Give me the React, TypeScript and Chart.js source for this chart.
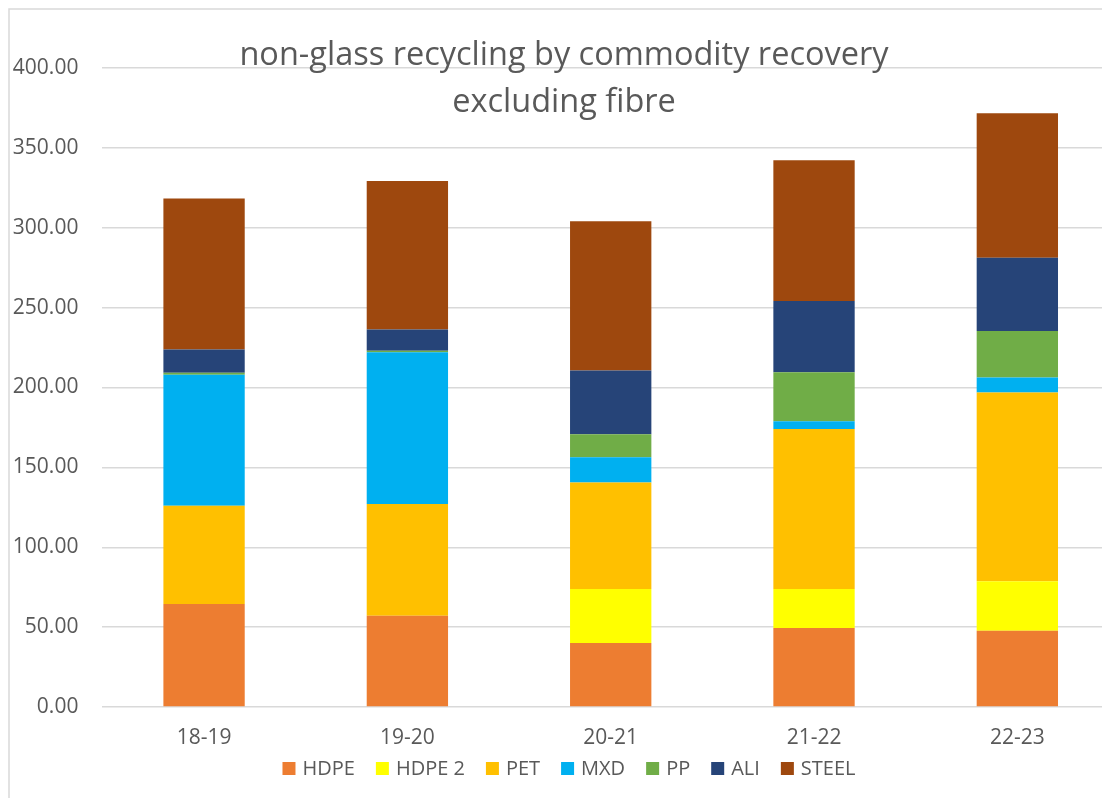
import { useEffect, useRef } from "react";
import { Chart, registerables } from "chart.js";

Chart.register(...registerables);

// Financial years along the category axis
const years = ["18-19", "19-20", "20-21", "21-22", "22-23"];

// Recovered tonnage per commodity, stacked from the bottom up
const hdpe = [64.5, 57.1, 40.0, 49.4, 47.7];
const hdpe2 = [0, 0, 33.8, 24.4, 31.0];
const pet = [61.5, 69.9, 66.8, 100.2, 118.2];
const mxd = [82.0, 95.0, 15.7, 4.8, 9.4];
const pp = [1.2, 1.0, 14.5, 30.7, 29.0];
const ali = [14.6, 13.3, 39.9, 44.6, 45.9];
const steel = [94.5, 92.9, 93.4, 88.2, 90.5];

const seriesNames = ["HDPE", "HDPE 2", "PET", "MXD", "PP", "ALI", "STEEL"];
const seriesValues = [hdpe, hdpe2, pet, mxd, pp, ali, steel];
const seriesColors = ["#ED7D31", "#FFFF00", "#FFC000", "#00B0F0", "#70AD47", "#264478", "#9E480E"];

const titleLines = ["non-glass recycling by commodity recovery", "excluding fibre"];

const yMin = 0;
const yMax = 400;
const yStep = 50;

const FONT = "'Open Sans', sans-serif";
const TEXT = "#595959";
const GRID = "#d9d9d9";

const W = 1120;
const H = 790;

// Frame, two-line title and a legend row drawn straight on the canvas
const decorations = {
  id: "decorations",
  afterDraw(chart: any) {
    const { ctx } = chart;
    ctx.save();

    ctx.strokeStyle = GRID;
    ctx.lineWidth = 1.5;
    ctx.strokeRect(1, 1, chart.width + 20, chart.height + 20);

    ctx.fillStyle = TEXT;
    ctx.textAlign = "center";
    ctx.textBaseline = "alphabetic";
    ctx.font = `32.5px ${FONT}`;
    titleLines.forEach((line, i) => ctx.fillText(line, 556, 57 + i * 47));

    ctx.font = `20px ${FONT}`;
    ctx.textAlign = "left";
    ctx.textBaseline = "middle";
    const box = 13;
    const gap = 7;
    const spacing = 21;
    const widths = seriesNames.map((n) => ctx.measureText(n).width);
    const total =
      widths.reduce((a: number, w: number) => a + box + gap + w, 0) + spacing * (seriesNames.length - 1);
    let x = 561 - total / 2;
    const cy = 760.5;
    seriesNames.forEach((name, i) => {
      ctx.fillStyle = seriesColors[i];
      ctx.fillRect(x, cy - box / 2, box, box);
      ctx.fillStyle = TEXT;
      ctx.fillText(name, x + box + gap, cy + 1);
      x += box + gap + widths[i] + spacing;
    });

    ctx.restore();
  },
};

export default function App() {
  const canvasRef = useRef<HTMLCanvasElement>(null);

  useEffect(() => {
    const canvas = canvasRef.current;
    if (!canvas) return;

    const chart = new Chart(canvas, {
      type: "bar",
      data: {
        labels: years,
        datasets: seriesNames.map((name, i) => ({
          label: name,
          data: seriesValues[i],
          backgroundColor: seriesColors[i],
          borderWidth: 0,
          barPercentage: 0.4,
          categoryPercentage: 1,
        })),
      },
      options: {
        responsive: false,
        animation: false,
        devicePixelRatio: 1,
        layout: { padding: { top: 60, left: 0, right: 9, bottom: 41 } },
        plugins: {
          legend: { display: false },
          title: { display: false },
          tooltip: { enabled: false },
        },
        scales: {
          x: {
            stacked: true,
            grid: { display: false, drawTicks: false },
            border: { display: false },
            ticks: { color: TEXT, font: { family: FONT, size: 21 }, padding: 18 },
            afterFit: (s: any) => {
              s.height = 50;
            },
          },
          y: {
            stacked: true,
            min: yMin,
            max: yMax,
            grid: { color: GRID, lineWidth: 1.5, drawTicks: false },
            border: { display: false },
            ticks: {
              stepSize: yStep,
              color: TEXT,
              font: { family: FONT, size: 21 },
              padding: 24,
              callback: (v: any) => Number(v).toFixed(2),
            },
            afterFit: (s: any) => {
              s.width = 94.4;
            },
          },
        },
      },
      plugins: [decorations],
    });

    return () => chart.destroy();
  }, []);

  return (
    <div style={{ width: 1102, height: H, overflow: "hidden", background: "#fff" }}>
      <canvas ref={canvasRef} width={W} height={H} style={{ display: "block", width: W, height: H }} />
    </div>
  );
}
